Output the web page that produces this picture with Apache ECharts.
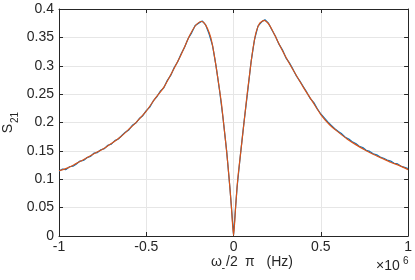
<!DOCTYPE html>
<html><head><meta charset="utf-8">
<script src="https://cdn.jsdelivr.net/npm/echarts@6/dist/echarts.min.js"></script>
<style>html,body{margin:0;padding:0;background:#fff}#c{width:415px;height:280px}</style>
</head><body><div id="c"></div>
<script>
// frequency in units of 1e6 Hz
const fitX = [-1.0,-0.95,-0.9,-0.85,-0.8,-0.75,-0.7,-0.65,-0.6,-0.55,-0.5,-0.45,-0.4,-0.35,-0.3,-0.25,-0.22,-0.2,-0.185,-0.17,-0.15,-0.13,-0.11,-0.09,-0.07,-0.055,-0.04,-0.025,-0.012,0,
  0.012,0.024,0.042,0.06,0.078,0.09,0.102,0.115,0.13,0.15,0.175,0.2,0.22,0.25,0.3,0.35,0.4,0.45,0.5,0.55,0.6,0.65,0.7,0.75,0.8,0.85,0.9,0.95,1.0];
const fitY = [0.115,0.120,0.128,0.136,0.145,0.153,0.163,0.174,0.188,0.203,0.220,0.242,0.262,0.290,0.320,0.354,0.370,0.376,0.378,0.376,0.366,0.349,0.318,0.278,0.235,0.193,0.150,0.100,0.050,0.001,
  0.052,0.100,0.150,0.200,0.250,0.280,0.310,0.337,0.360,0.375,0.380,0.374,0.364,0.345,0.315,0.288,0.262,0.238,0.214,0.196,0.183,0.171,0.161,0.152,0.144,0.137,0.130,0.124,0.117];
const measX = [-1.00,-0.98,-0.96,-0.94,-0.92,-0.90,-0.88,-0.86,-0.84,-0.82,-0.80,-0.78,-0.76,-0.74,-0.72,-0.70,-0.68,-0.66,-0.64,-0.62,-0.60,-0.58,-0.56,-0.54,-0.52,-0.50,-0.48,-0.46,-0.44,-0.42,-0.40,-0.38,-0.36,-0.34,-0.32,-0.30,-0.28,-0.26,-0.24,-0.22,-0.20,-0.18,-0.16,-0.14,-0.12,-0.10,-0.08,-0.06,-0.04,-0.02,0.00,
  0.02,0.04,0.06,0.08,0.10,0.12,0.14,0.16,0.18,0.20,0.22,0.24,0.26,0.28,0.30,0.32,0.34,0.36,0.38,0.40,0.42,0.44,0.46,0.48,0.50,0.52,0.54,0.56,0.58,0.60,0.62,0.64,0.66,0.68,0.70,0.72,0.74,0.76,0.78,0.80,0.82,0.84,0.86,0.88,0.90,0.92,0.94,0.96,0.98,1.00];
const measY = [0.114,0.118,0.117,0.122,0.123,0.127,0.132,0.133,0.138,0.140,0.146,0.147,0.152,0.154,0.160,0.162,0.168,0.171,0.177,0.183,0.187,0.195,0.199,0.207,0.212,0.221,0.227,0.238,0.245,0.255,0.261,0.274,0.283,0.297,0.307,0.321,0.333,0.348,0.358,0.371,0.375,0.379,0.372,0.356,0.335,0.299,0.256,0.207,0.151,0.082,0.002,
  0.085,0.145,0.201,0.252,0.306,0.346,0.370,0.377,0.381,0.375,0.363,0.352,0.338,0.328,0.314,0.305,0.294,0.282,0.273,0.263,0.253,0.242,0.235,0.224,0.215,0.208,0.201,0.195,0.189,0.184,0.180,0.174,0.171,0.166,0.163,0.158,0.156,0.151,0.149,0.145,0.143,0.139,0.137,0.134,0.132,0.128,0.127,0.123,0.121,0.119];
const xTickLabels = ['-1','-0.5','0','0.5','1'];
const yTickLabels = ['0','0.05','0.1','0.15','0.2','0.25','0.3','0.35','0.4'];

const FONT = 'Liberation Sans, Arial, Helvetica, sans-serif';
const AX = '#262626';
const chart = echarts.init(document.getElementById('c'), null, {renderer:'canvas'});
const baseX = {type:'value', min:-1, max:1, interval:0.5};
const baseY = {type:'value', min:0, max:0.4, interval:0.05};
const line = {show:true, onZero:false, lineStyle:{color:AX, width:1}};
const tick = {show:true, inside:true, length:4, lineStyle:{color:AX, width:1}};
chart.setOption({
  animation:false,
  backgroundColor:'#fff',
  grid:{left:59, right:5, top:9, bottom:44, containLabel:false},
  xAxis:[
    Object.assign({}, baseX, {position:'bottom', axisLine:line, axisTick:tick,
      axisLabel:{show:true, margin:4, fontSize:14, color:AX, fontFamily:FONT,
        formatter:(v)=>xTickLabels[Math.round((v+1)/0.5)]},
      splitLine:{show:true, lineStyle:{color:'#e6e6e6', width:1}}}),
    Object.assign({}, baseX, {position:'top', axisLine:line, axisTick:tick,
      axisLabel:{show:false}, splitLine:{show:false}})
  ],
  yAxis:[
    Object.assign({}, baseY, {position:'left', axisLine:line, axisTick:tick,
      axisLabel:{show:true, margin:5, fontSize:14, color:AX, fontFamily:FONT,
        formatter:(v)=>yTickLabels[Math.round(v/0.05)]},
      splitLine:{show:true, lineStyle:{color:'#e6e6e6', width:1}}}),
    Object.assign({}, baseY, {position:'right', axisLine:line, axisTick:tick,
      axisLabel:{show:false}, splitLine:{show:false}})
  ],
  series:[
    {type:'line', xAxisIndex:0, yAxisIndex:0, showSymbol:false, z:2,
     data:measX.map((x,i)=>[x,measY[i]]),
     lineStyle:{color:'#0072BD', width:1.2}},
    {type:'line', xAxisIndex:0, yAxisIndex:0, showSymbol:false, z:3, smooth:0.25,
     data:fitX.map((x,i)=>[x,fitY[i]]),
     lineStyle:{color:'#D95319', width:1.2}}
  ],
  graphic:[
    {type:'text', x:8, y:128.5, rotation:Math.PI/2, style:{text:'S', fontSize:14, fontFamily:FONT, fill:AX, align:'center', verticalAlign:'middle'}},
    {type:'text', x:15.5, y:117.5, rotation:Math.PI/2, style:{text:'21', fontSize:10, fontFamily:FONT, fill:AX, align:'center', verticalAlign:'middle'}},
    {type:'text', x:211, y:262, style:{text:'ω', fontSize:14, fontFamily:FONT, fill:AX, align:'left', verticalAlign:'middle'}},
    {type:'text', x:221.5, y:268, style:{text:'-', fontSize:11, fontFamily:FONT, fill:AX, align:'left', verticalAlign:'middle'}},
    {type:'text', x:226, y:262, style:{text:'/2', fontSize:14, fontFamily:FONT, fill:AX, align:'left', verticalAlign:'middle'}},
    {type:'text', x:245, y:262, style:{text:'π', fontSize:14, fontFamily:FONT, fill:AX, align:'left', verticalAlign:'middle'}},
    {type:'text', x:266.5, y:262, style:{text:'(Hz)', fontSize:14, fontFamily:FONT, fill:AX, align:'left', verticalAlign:'middle'}},
    {type:'text', x:376, y:266, style:{text:'×10', fontSize:14, fontFamily:FONT, fill:AX, align:'left', verticalAlign:'middle'}},
    {type:'text', x:403, y:261, style:{text:'6', fontSize:10, fontFamily:FONT, fill:AX, align:'left', verticalAlign:'middle'}}
  ]
});
</script></body></html>
